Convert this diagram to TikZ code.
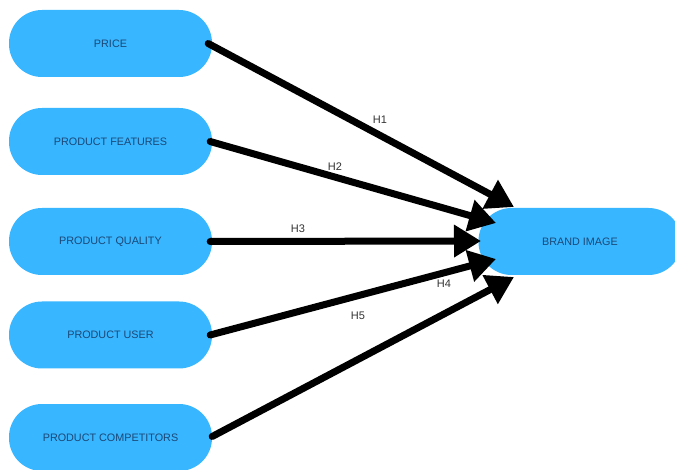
\documentclass[tikz,border=0pt]{standalone}
\usepackage{fontspec}
\setmainfont{Liberation Sans}
\usetikzlibrary{arrows.meta}
\definecolor{pill}{HTML}{38B6FF}
\definecolor{pilltext}{HTML}{1B4877}
\definecolor{hlabel}{HTML}{333333}
\begin{document}
\begin{tikzpicture}[x=1pt,y=-1pt,
  factor/.style={fill=pill, draw=none, rounded corners=33pt,
    minimum width=203pt, minimum height=67pt, inner sep=0pt,
    text=pilltext, font=\fontsize{10.8}{12}\selectfont},
  link/.style={line width=7pt, line cap=round,
    -{Triangle[length=27pt,width=31pt,line cap=butt]}},
  hyp/.style={text=hlabel, font=\fontsize{11}{12}\selectfont, inner sep=0pt}]
\useasboundingbox (0,0) rectangle (675,470);

% independent variables
\node[factor] (price)    at (110.5,43.5)  {PRICE};
\node[factor] (features) at (110.5,141.5) {PRODUCT FEATURES};
\node[factor] (quality)  at (110.5,241.5) {PRODUCT QUALITY};
\node[factor] (user)     at (110.5,335)   {PRODUCT USER};
\node[factor] (compet)   at (110.5,437.5) {PRODUCT COMPETITORS};

% dependent variable
\node[factor] (brand) at (580,241.5) {BRAND IMAGE};

% arrow tips at the brand image pill
\coordinate (t1) at (514,207);
\coordinate (t2) at (496,223);
\coordinate (t3) at (481,241);
\coordinate (t4) at (496,259);
\coordinate (t5) at (514,277);

\draw[link] ([xshift=-4pt]price.east)    -- (t1);
\draw[link] ([xshift=-2pt]features.east) -- (t2);
\draw[link] ([xshift=-2pt]quality.east)  -- (t3);
\draw[link] ([xshift=-2pt]user.east)     -- (t4);
\draw[link] ([yshift=1pt]compet.east)    -- (t5);

% hypothesis labels
\node[hyp] (h1) at (380,120) {H1};
\node[hyp] (h2) at (335,167) {H2};
\node[hyp] (h3) at (298,229) {H3};
\node[hyp] (h4) at (444,284) {H4};
\node[hyp] (h5) at (358,316) {H5};
\end{tikzpicture}
\end{document}
